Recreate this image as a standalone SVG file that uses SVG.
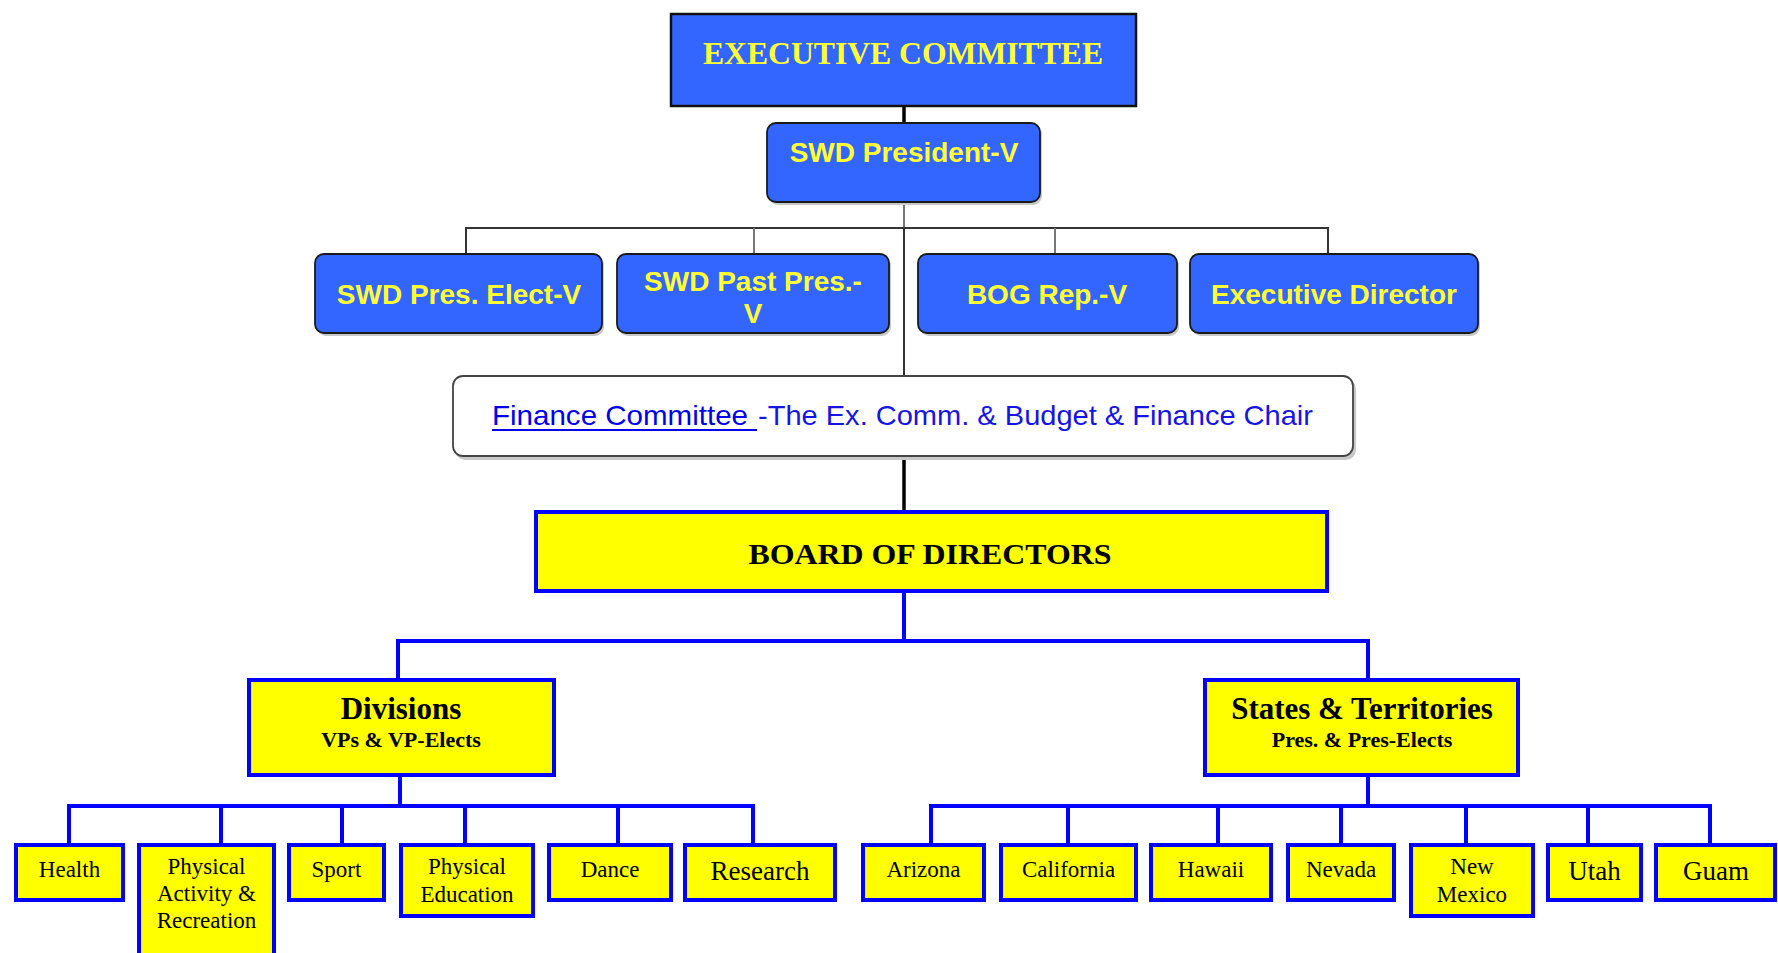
<svg xmlns="http://www.w3.org/2000/svg" width="1778" height="953" viewBox="0 0 1778 953">
<defs>
<style>
.bluebox{fill:#3366FF;stroke:#1a1a1a;stroke-width:1.8}
.shadow{fill:#c8c8c8}
.wt{font-family:"Liberation Sans",Arial,sans-serif;font-weight:bold;font-size:28px;fill:#FFFF33;text-anchor:middle}
.yb{fill:#FFFF00;stroke:#0000FF;stroke-width:4}
.st{font-family:"Liberation Serif","Times New Roman",serif;fill:#000;text-anchor:middle}
.s23{font-size:23px}
.s27{font-size:27px}
.hd{font-weight:bold;font-size:31px}
.sub{font-weight:bold;font-size:22px}
.thin{stroke:#333;stroke-width:2;fill:none}
.grey{stroke:#777;stroke-width:2;fill:none}
.thick{stroke:#000;stroke-width:3.5;fill:none}
.blue{stroke:#0000FF;stroke-width:4;fill:none}
</style>
</defs>
<rect width="1778" height="953" fill="#fff"/>
<g id="connectors">
<line class="thick" x1="904" y1="106" x2="904" y2="123"/>
<line class="grey" x1="904" y1="202" x2="904" y2="228"/>
<polyline class="thin" points="466,254 466,228 1328,228 1328,254"/>
<line class="grey" x1="754" y1="228" x2="754" y2="254"/>
<line class="grey" x1="1055" y1="228" x2="1055" y2="254"/>
<line class="thin" x1="904" y1="228" x2="904" y2="376"/>
<line class="thick" x1="904" y1="457" x2="904" y2="511"/>
<line class="blue" x1="904" y1="592" x2="904" y2="641"/>
<polyline class="blue" points="398,679 398,641 1368,641 1368,679"/>
<line class="blue" x1="400" y1="777" x2="400" y2="806"/>
<polyline class="blue" points="69,844 69,806 753,806 753,844"/>
<line class="blue" x1="221" y1="806" x2="221" y2="844"/>
<line class="blue" x1="342" y1="806" x2="342" y2="844"/>
<line class="blue" x1="465" y1="806" x2="465" y2="844"/>
<line class="blue" x1="618" y1="806" x2="618" y2="844"/>
<line class="blue" x1="1368" y1="777" x2="1368" y2="806"/>
<polyline class="blue" points="931,844 931,806 1710,806 1710,844"/>
<line class="blue" x1="1068" y1="806" x2="1068" y2="844"/>
<line class="blue" x1="1218" y1="806" x2="1218" y2="844"/>
<line class="blue" x1="1341" y1="806" x2="1341" y2="844"/>
<line class="blue" x1="1466" y1="806" x2="1466" y2="844"/>
<line class="blue" x1="1588" y1="806" x2="1588" y2="844"/>
</g>
<g id="exec-committee">
<rect x="671" y="14" width="465" height="92" fill="#3366FF" stroke="#111" stroke-width="2.5"/>
<text x="903" y="64" font-family="Liberation Serif,'Times New Roman',serif" font-weight="bold" font-size="32" fill="#FFFF33" text-anchor="middle" textLength="400" lengthAdjust="spacingAndGlyphs">EXECUTIVE COMMITTEE</text>
</g>
<g id="president">
<rect class="shadow" x="769" y="125" width="273" height="80" rx="9"/>
<rect class="bluebox" x="767" y="123" width="273" height="79" rx="9"/>
<text class="wt" x="904" y="162">SWD President-V</text>
</g>
<g id="pres-elect">
<rect class="shadow" x="317" y="256" width="287" height="80" rx="9"/>
<rect class="bluebox" x="315" y="254" width="287" height="79" rx="9"/>
<text class="wt" x="459" y="304">SWD Pres. Elect-V</text>
</g>
<g id="past-pres">
<rect class="shadow" x="619" y="256" width="272" height="80" rx="9"/>
<rect class="bluebox" x="617" y="254" width="272" height="79" rx="9"/>
<text class="wt" x="753" y="291">SWD Past Pres.-</text>
<text class="wt" x="753" y="323">V</text>
</g>
<g id="bog-rep">
<rect class="shadow" x="920" y="256" width="259" height="80" rx="9"/>
<rect class="bluebox" x="918" y="254" width="259" height="79" rx="9"/>
<text class="wt" x="1047" y="304">BOG Rep.-V</text>
</g>
<g id="exec-director">
<rect class="shadow" x="1192" y="256" width="288" height="80" rx="9"/>
<rect class="bluebox" x="1190" y="254" width="288" height="79" rx="9"/>
<text class="wt" x="1334" y="304">Executive Director</text>
</g>
<g id="finance">
<rect class="shadow" x="455" y="379" width="901" height="81" rx="10"/>
<rect x="453" y="376" width="900" height="80" rx="10" fill="#fff" stroke="#444" stroke-width="1.8"/>
<text x="492" y="425" font-family="Liberation Sans,Arial,sans-serif" font-size="28.5" fill="#0000EE" textLength="256" lengthAdjust="spacingAndGlyphs">Finance Committee</text>
<line x1="492" y1="430" x2="757" y2="430" stroke="#0000EE" stroke-width="2"/>
<text x="758" y="425" font-family="Liberation Sans,Arial,sans-serif" font-size="28.5" fill="#1515E6" textLength="555" lengthAdjust="spacingAndGlyphs">-The Ex. Comm. &amp; Budget &amp; Finance Chair</text>
</g>
<g id="board">
<rect class="yb" x="536" y="512" width="791" height="79"/>
<text class="st" x="930" y="564" font-weight="bold" font-size="30" textLength="363" lengthAdjust="spacingAndGlyphs">BOARD OF DIRECTORS</text>
</g>
<g id="divisions">
<rect class="yb" x="249" y="680" width="305" height="95"/>
<text class="st hd" x="401" y="719">Divisions</text>
<text class="st sub" x="401" y="747">VPs &amp; VP-Elects</text>
</g>
<g id="states">
<rect class="yb" x="1205" y="680" width="313" height="95"/>
<text class="st hd" x="1362" y="719">States &amp; Territories</text>
<text class="st sub" x="1362" y="747">Pres. &amp; Pres-Elects</text>
</g>
<g id="health"><rect class="yb" x="16" y="845" width="107" height="55"/><text class="st s23" x="69.5" y="877">Health</text></g>
<g id="phys-activity"><rect class="yb" x="139" y="845" width="135" height="115"/><text class="st s23" x="206.5" y="874">Physical</text><text class="st s23" x="206.5" y="901">Activity &amp;</text><text class="st s23" x="206.5" y="928">Recreation</text></g>
<g id="sport"><rect class="yb" x="289" y="845" width="95" height="55"/><text class="st s23" x="336.5" y="877">Sport</text></g>
<g id="phys-ed"><rect class="yb" x="401" y="845" width="132" height="71"/><text class="st s23" x="467" y="874">Physical</text><text class="st s23" x="467" y="902">Education</text></g>
<g id="dance"><rect class="yb" x="549" y="845" width="122" height="55"/><text class="st s23" x="610" y="877">Dance</text></g>
<g id="research"><rect class="yb" x="685" y="845" width="150" height="55"/><text class="st s27" x="760" y="880">Research</text></g>
<g id="arizona"><rect class="yb" x="863" y="845" width="121" height="55"/><text class="st s23" x="923.5" y="877">Arizona</text></g>
<g id="california"><rect class="yb" x="1001" y="845" width="135" height="55"/><text class="st s23" x="1068.5" y="877">California</text></g>
<g id="hawaii"><rect class="yb" x="1151" y="845" width="120" height="55"/><text class="st s23" x="1211" y="877">Hawaii</text></g>
<g id="nevada"><rect class="yb" x="1288" y="845" width="106" height="55"/><text class="st s23" x="1341" y="877">Nevada</text></g>
<g id="new-mexico"><rect class="yb" x="1411" y="845" width="122" height="71"/><text class="st s23" x="1472" y="874">New</text><text class="st s23" x="1472" y="902">Mexico</text></g>
<g id="utah"><rect class="yb" x="1548" y="845" width="93" height="55"/><text class="st s27" x="1594.5" y="880">Utah</text></g>
<g id="guam"><rect class="yb" x="1656" y="845" width="119" height="55"/><text class="st s27" x="1716" y="880">Guam</text></g>
</svg>
